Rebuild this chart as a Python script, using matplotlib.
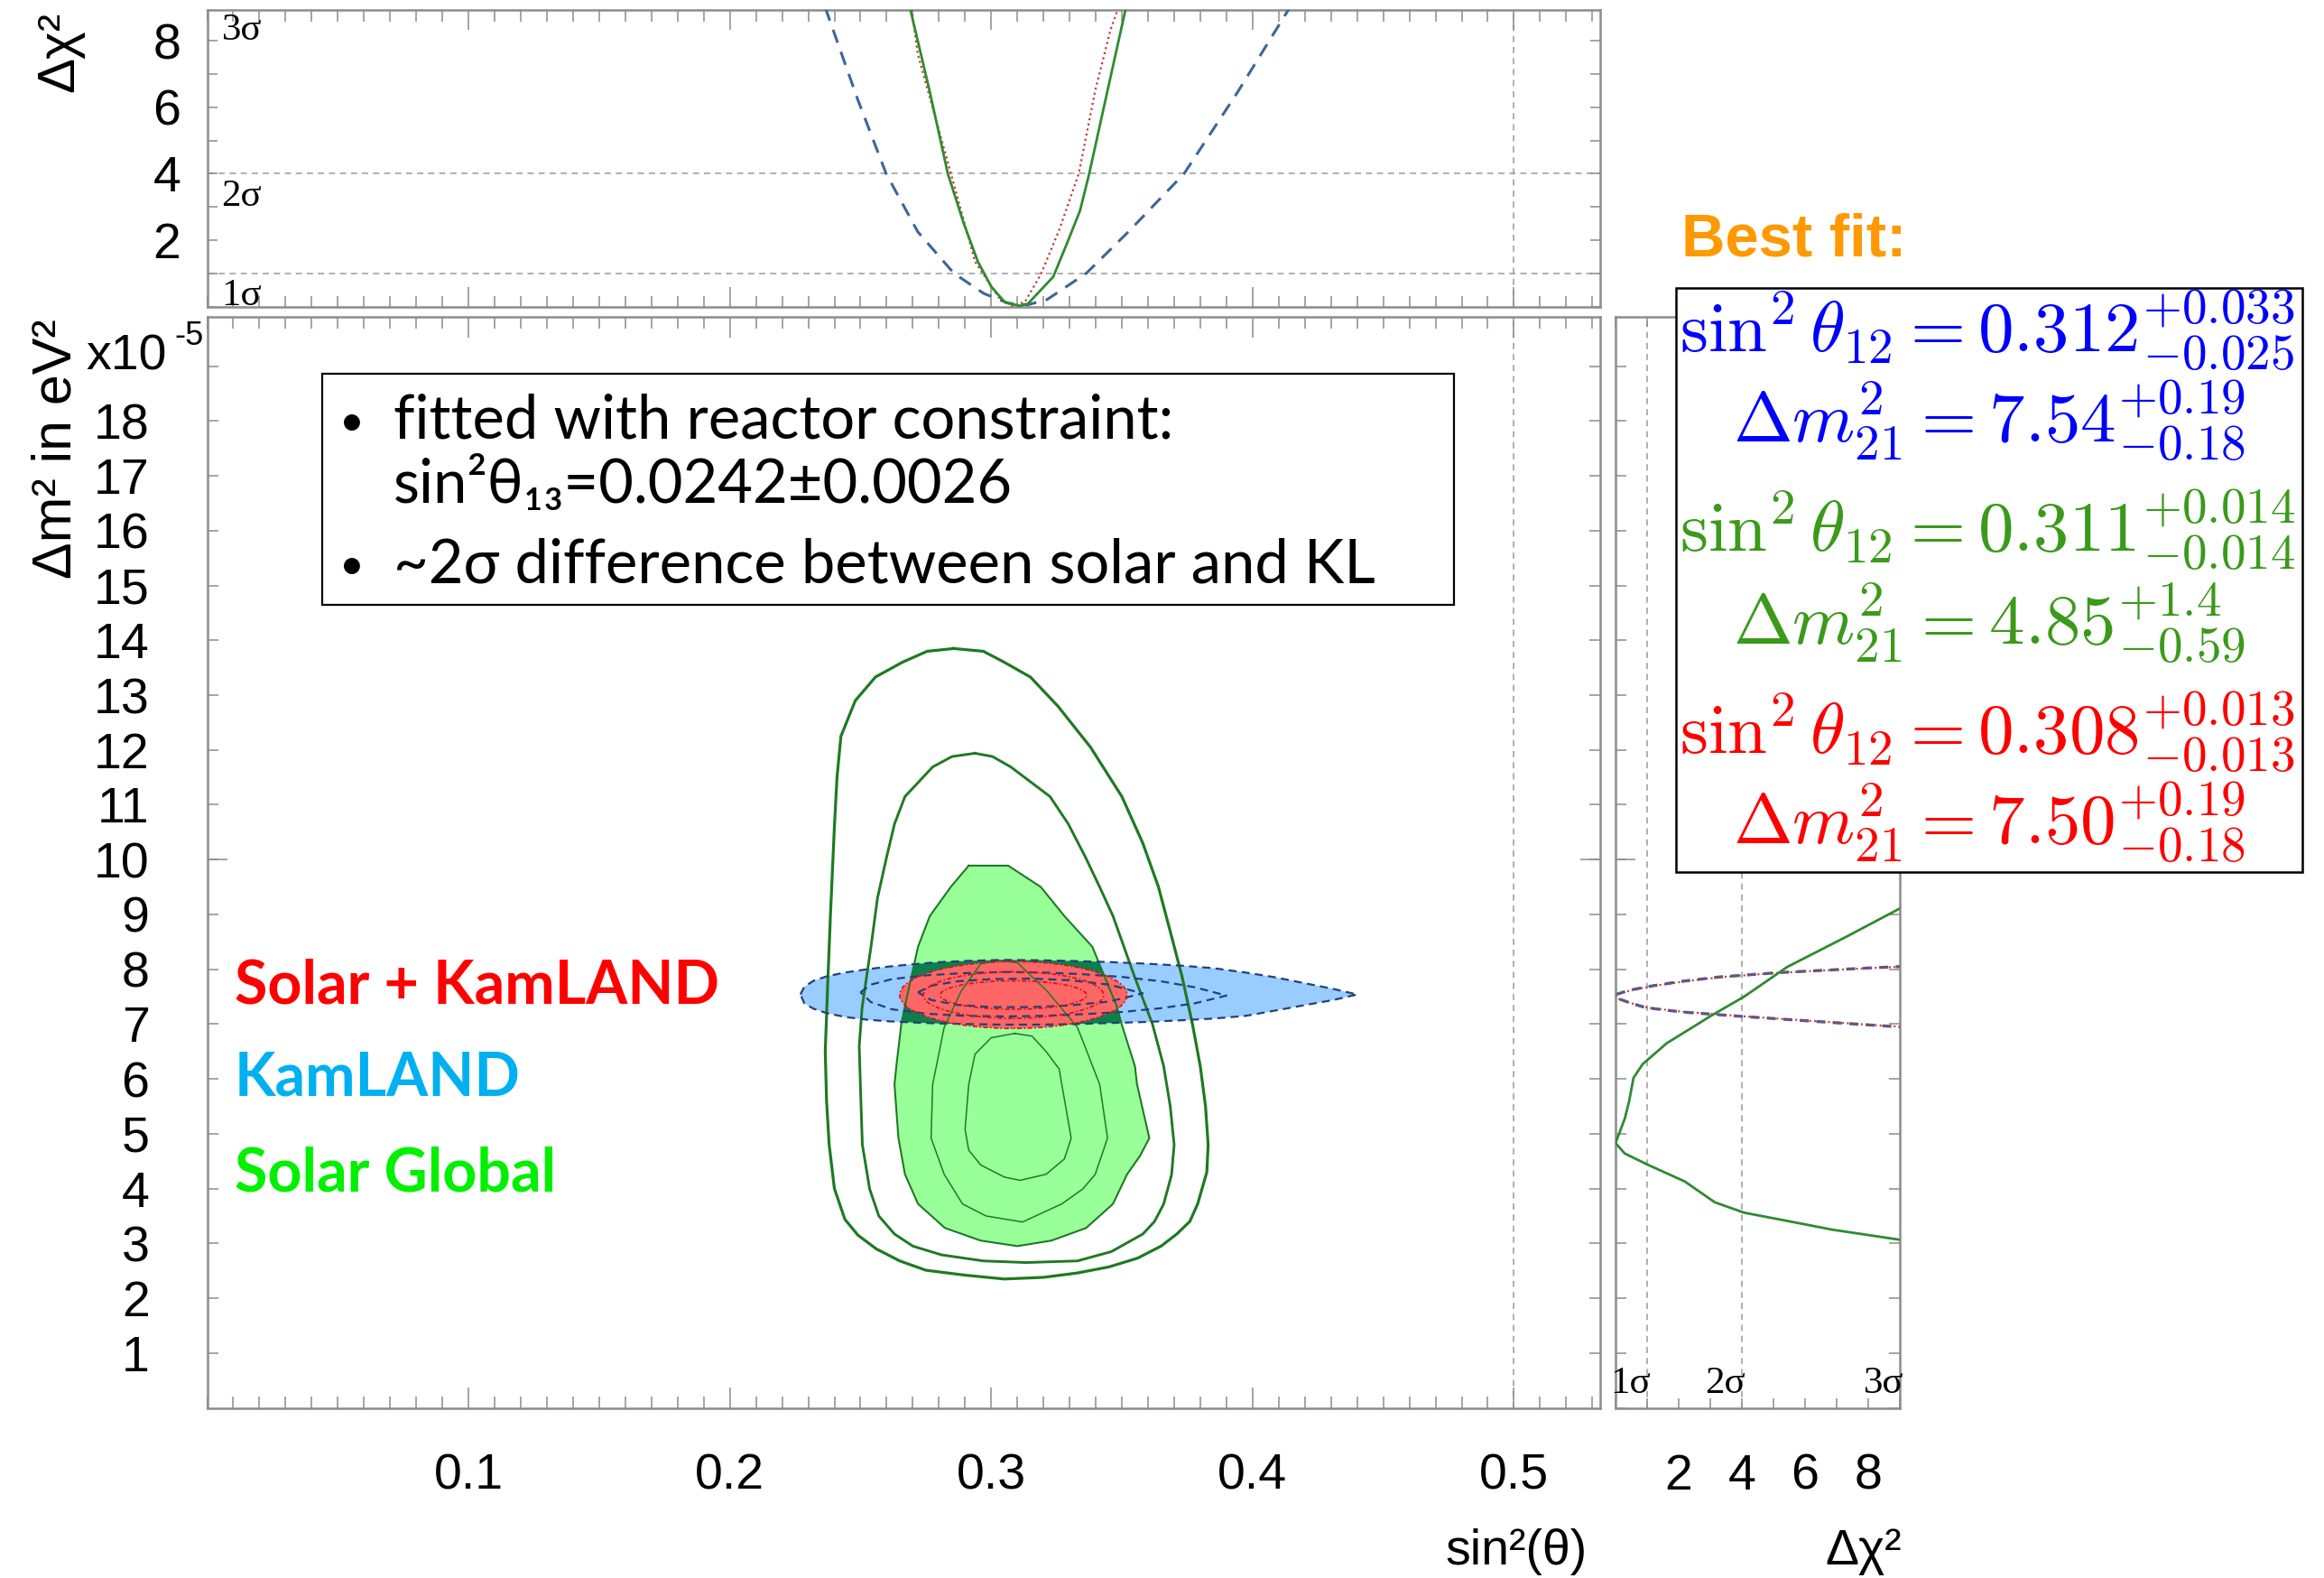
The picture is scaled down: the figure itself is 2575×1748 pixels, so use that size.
import matplotlib
matplotlib.use("Agg")
import matplotlib.pyplot as plt
from matplotlib.patches import Polygon, Ellipse, Rectangle
from matplotlib.ticker import MultipleLocator, FixedLocator, FuncFormatter, NullFormatter
import numpy as np

W, H, DPI = 2575, 1748, 100

# ------------------------------------------------------------------ data
# main panel: allowed regions, x = sin^2(theta12), y = dm^2_21 [1e-5 eV^2]
SOLAR_OUTER_X = [0.2857, 0.297, 0.305, 0.315, 0.3255, 0.338, 0.350, 0.358, 0.364, 0.369, 0.373,
                 0.377, 0.380, 0.382, 0.383, 0.3825, 0.379, 0.376, 0.371, 0.365, 0.356, 0.345,
                 0.333, 0.320, 0.305, 0.290, 0.275, 0.265, 0.256, 0.249, 0.244, 0.240, 0.238,
                 0.237, 0.2365, 0.2375, 0.2385, 0.240, 0.241, 0.2425, 0.248, 0.2557, 0.266, 0.2755]
SOLAR_OUTER_Y = [13.85, 13.8, 13.6, 13.33, 12.8, 12.05, 11.15, 10.3, 9.5, 8.6, 7.87,
                 7.0, 6.23, 5.5, 4.8, 4.3, 3.72, 3.4, 3.17, 2.95, 2.73, 2.57,
                 2.46, 2.38, 2.35, 2.42, 2.51, 2.68, 2.9, 3.15, 3.44, 4.0, 4.8,
                 5.6, 6.5, 7.8, 9.0, 10.6, 11.5, 12.25, 12.9, 13.33, 13.6, 13.8]

SOLAR_MID_X = [0.2938, 0.3005, 0.3075, 0.3225, 0.3295, 0.336, 0.3415, 0.3466, 0.3548, 0.3617,
               0.366, 0.3685, 0.370, 0.369, 0.366, 0.3625, 0.358, 0.346, 0.333, 0.3134,
               0.297, 0.281, 0.270, 0.263, 0.257, 0.2535, 0.2507, 0.250, 0.2495, 0.2506,
               0.254, 0.2565, 0.260, 0.263, 0.267, 0.2776, 0.285]
SOLAR_MID_Y = [11.94, 11.88, 11.69, 11.15, 10.65, 10.05, 9.5, 8.97, 7.87, 7.0,
               6.23, 5.5, 4.8, 4.25, 3.72, 3.4, 3.17, 2.85, 2.68, 2.65,
               2.68, 2.79, 2.95, 3.17, 3.5, 3.99, 4.8, 5.8, 6.6, 7.3,
               8.41, 9.3, 10.05, 10.65, 11.15, 11.69, 11.88]

SOLAR_FILL_X = [0.2914, 0.3065, 0.319, 0.328, 0.3387, 0.348, 0.3499, 0.355, 0.3558, 0.3605,
                0.357, 0.352, 0.3466, 0.3363, 0.323, 0.310, 0.296, 0.2823, 0.272, 0.267,
                0.2645, 0.263, 0.2637, 0.2656, 0.267, 0.272, 0.2765, 0.2845]
SOLAR_FILL_Y = [9.89, 9.89, 9.5, 8.97, 8.41, 7.33, 7.0, 6.23, 5.9, 4.92,
                4.6, 4.26, 3.72, 3.28, 3.05, 2.95, 3.05, 3.28, 3.72, 4.26,
                4.92, 5.9, 6.23, 7.0, 7.33, 8.41, 8.97, 9.5]

SOLAR_IN1_X = [0.296, 0.303, 0.310, 0.3214, 0.333, 0.3415, 0.3445, 0.3398, 0.335, 0.327,
               0.312, 0.298, 0.289, 0.282, 0.277, 0.2776, 0.282, 0.2885]
SOLAR_IN1_Y = [8.10, 8.16, 8.12, 7.6, 6.94, 5.9, 4.92, 4.26, 3.99, 3.72,
               3.39, 3.5, 3.72, 4.26, 4.92, 5.9, 6.94, 7.6]

SOLAR_IN2_X = [0.309, 0.3156, 0.321, 0.326, 0.328, 0.3306, 0.328, 0.321, 0.311, 0.305,
               0.296, 0.2914, 0.290, 0.2914, 0.2938, 0.300]
SOLAR_IN2_Y = [6.83, 6.78, 6.5, 6.18, 5.63, 4.92, 4.54, 4.26, 4.15, 4.21,
               4.43, 4.7, 5.08, 5.9, 6.45, 6.75]

KL_3S_X = [0.227, 0.2285, 0.232, 0.237, 0.244, 0.2525, 0.261, 0.2697, 0.280, 0.292, 0.304,
           0.318, 0.332, 0.346, 0.360, 0.373, 0.385, 0.3974, 0.409, 0.4205, 0.431, 0.440,
           0.431, 0.4205, 0.409, 0.3974, 0.385, 0.373, 0.360, 0.346, 0.332, 0.318, 0.304,
           0.292, 0.280, 0.2697, 0.261, 0.2525, 0.244, 0.237, 0.232, 0.2285]
KL_3S_Y = [7.54, 7.68, 7.79, 7.87, 7.94, 8.00, 8.05, 8.09, 8.13, 8.155, 8.17,
           8.165, 8.15, 8.13, 8.10, 8.065, 8.02, 7.94, 7.85, 7.74, 7.64, 7.54,
           7.44, 7.35, 7.25, 7.15, 7.10, 7.07, 7.04, 7.02, 7.0, 6.99, 6.99,
           7.0, 7.01, 7.03, 7.05, 7.08, 7.13, 7.2, 7.28, 7.38]

KL_2S_X = [0.250, 0.254, 0.262, 0.275, 0.290, 0.305, 0.320, 0.335, 0.350, 0.365, 0.378, 0.390,
           0.378, 0.365, 0.350, 0.335, 0.320, 0.305, 0.290, 0.275, 0.262, 0.254]
KL_2S_Y = [7.58, 7.72, 7.82, 7.89, 7.93, 7.95, 7.94, 7.91, 7.86, 7.78, 7.67, 7.52,
           7.38, 7.29, 7.22, 7.18, 7.15, 7.14, 7.15, 7.19, 7.27, 7.40]

KL_1S_X = [0.272, 0.277, 0.287, 0.300, 0.315, 0.330, 0.345, 0.358,
           0.345, 0.330, 0.315, 0.300, 0.287, 0.277]
KL_1S_Y = [7.58, 7.70, 7.78, 7.82, 7.83, 7.80, 7.72, 7.56,
           7.41, 7.34, 7.31, 7.31, 7.35, 7.44]

SKL_CENTER = (0.3085, 7.53)
SKL_WIDTHS = [0.087, 0.069, 0.056]    # 3 sigma (filled), 2 sigma, 1 sigma
SKL_HEIGHTS = [1.22, 0.85, 0.52]

# top panel: delta chi^2 vs sin^2(theta12)
TOP_SOLAR_S2 = [0.2680, 0.2764, 0.2834, 0.2895, 0.2949, 0.3000, 0.3053, 0.3110, 0.3140,
                0.3237, 0.3290, 0.3340, 0.3375, 0.3445, 0.3524]
TOP_SOLAR_CHI2 = [9.3, 6.5, 4.0, 2.5, 1.35, 0.6, 0.12, 0.02, 0.08,
                  0.89, 1.9, 2.89, 4.0, 6.5, 9.3]
TOP_SKL_S2 = [0.2690, 0.2719, 0.2846, 0.2938, 0.3030, 0.3085, 0.3130, 0.3190, 0.3260,
              0.3335, 0.3398, 0.3456, 0.3500]
TOP_SKL_CHI2 = [9.3, 7.6, 4.0, 1.35, 0.26, 0.0, 0.15, 0.97, 2.3, 4.0, 6.5, 8.32, 9.3]
TOP_KL_S2 = [0.2365, 0.2489, 0.2598, 0.2719, 0.2857, 0.2972, 0.3065, 0.3140, 0.3214,
             0.3364, 0.3525, 0.3738, 0.3940, 0.4150]
TOP_KL_CHI2 = [9.0, 6.24, 4.0, 2.25, 1.0, 0.39, 0.1, 0.05, 0.21, 1.0, 2.25, 4.0, 6.42, 9.1]

# right panel: delta chi^2 vs dm^2
R_SOLAR_DM2 = [9.2, 8.6, 8.04, 7.5, 7.16, 6.65, 6.27, 6.02, 5.59, 5.27, 4.83, 4.64, 4.44,
               4.13, 3.75, 3.56, 3.41, 3.25, 3.04]
R_SOLAR_CHI2 = [9.3, 7.33, 5.43, 4.07, 3.05, 1.62, 0.86, 0.57, 0.43, 0.29, 0.0, 0.29, 1.0,
                2.19, 3.14, 4.07, 5.43, 6.86, 9.3]
R_KL_DM2 = [6.90, 6.97, 7.05, 7.14, 7.22, 7.30, 7.38, 7.46, 7.50, 7.54, 7.62, 7.70, 7.78,
            7.86, 7.94, 8.02, 8.10]
R_KL_CHI2 = [10.3, 8.4, 6.3, 4.0, 2.1, 0.95, 0.5, 0.1, 0.0, 0.02, 0.45, 1.2, 2.1,
             3.3, 5.2, 7.9, 11.0]
R_SKL_DM2 = [6.90, 6.97, 7.05, 7.14, 7.22, 7.30, 7.38, 7.46, 7.50, 7.54, 7.62, 7.70, 7.78,
             7.86, 7.94, 8.02, 8.10]
R_SKL_CHI2 = [10.5, 8.5, 6.4, 4.1, 2.2, 1.0, 0.5, 0.08, 0.0, 0.05, 0.5, 1.25, 2.2,
              3.4, 5.3, 8.0, 11.2]

X_TICKS = [0.1, 0.2, 0.3, 0.4, 0.5]
Y_TICKS = list(range(1, 20))
Y_LABEL_MAX = 18
CHI2_TICKS = [2, 4, 6, 8]
SIGMA_LEVELS = [1, 4, 9]
SIGMA_LABELS = ["1σ", "2σ", "3σ"]

LEGEND_LABELS = ["Solar + KamLAND", "KamLAND", "Solar Global"]
BOX_LINES = ["fitted with reactor constraint:", "sin²θ₁₃=0.0242±0.0026",
             "~2σ difference between solar and KL"]
BF_SIN2 = ["0.312", "0.311", "0.308"]
BF_SIN2_UP = ["0.033", "0.014", "0.013"]
BF_SIN2_DN = ["0.025", "0.014", "0.013"]
BF_DM2 = ["7.54", "4.85", "7.50"]
BF_DM2_UP = ["0.19", "1.4", "0.19"]
BF_DM2_DN = ["0.18", "0.59", "0.18"]

# ------------------------------------------------------------------ style
plt.rcParams["font.family"] = ["Liberation Sans", "DejaVu Sans"]
plt.rcParams["mathtext.fontset"] = "cm"

C_FRAME = "#8c8c8c"
C_GRID = "#9a9a9a"
C_LGREEN = "#99FF99"
C_DGREEN = "#0D7F4C"
C_GLINE = "#1E7A22"
C_LBLUE = "#99CCFF"
C_BLINE = "#22417A"
C_RED = "#FF6666"
C_RLINE = "#D01515"
C_PGREEN = "#2E8B2E"
C_PBLUE = "#3C6699"
C_PRED = "#CC3333"
TICK_FS = 40
CALIBRI = ["Lato", "DejaVu Sans"]

fig = plt.figure(figsize=(W / DPI, H / DPI), dpi=DPI)
fig.patch.set_facecolor("white")


def add_axes_px(l, t, r, b):
    return fig.add_axes([l / W, 1 - b / H, (r - l) / W, (b - t) / H])


def ftext(x, y, s, **kw):
    return fig.text(x / W, 1 - y / H, s, **kw)


def style(ax):
    for sp in ax.spines.values():
        sp.set_color(C_FRAME)
        sp.set_linewidth(1.8)
    ax.tick_params(which="both", direction="in", color=C_FRAME, width=1.1,
                   top=True, right=True, labelsize=TICK_FS)


def closed(v):
    return list(v) + [v[0]]


dash = (0, (4.5, 3.5))

# ------------------------------------------------------------------ top panel
ax_top = add_axes_px(229.5, 11, 1773, 339.5)
style(ax_top)
ax_top.set_xlim(0, 0.533)
ax_top.set_ylim(0, 8.93)
ax_top.xaxis.set_major_locator(FixedLocator(X_TICKS))
ax_top.xaxis.set_minor_locator(MultipleLocator(0.01))
ax_top.xaxis.set_major_formatter(NullFormatter())
ax_top.yaxis.set_major_locator(FixedLocator(CHI2_TICKS))
ax_top.yaxis.set_minor_locator(MultipleLocator(1))
ax_top.yaxis.set_major_formatter(FuncFormatter(lambda v, p: f"{v:.0f}"))
ax_top.tick_params(axis="x", which="major", length=16)
ax_top.tick_params(axis="x", which="minor", length=9)
ax_top.tick_params(axis="y", which="both", length=8, pad=21)
for lev in SIGMA_LEVELS[:2]:
    ax_top.axhline(lev, color=C_GRID, lw=1.1, ls=dash, zorder=1)
ax_top.axvline(0.5, color=C_GRID, lw=1.1, ls=dash, zorder=1)
ax_top.plot(TOP_KL_S2, TOP_KL_CHI2, color=C_PBLUE, lw=2.2, ls=(0, (5, 3.5)), zorder=3)
ax_top.plot(TOP_SKL_S2, TOP_SKL_CHI2, color=C_PRED, lw=1.6, ls=(0, (1, 1.6)), zorder=4)
ax_top.plot(TOP_SOLAR_S2, TOP_SOLAR_CHI2, color=C_PGREEN, lw=2.0, zorder=5)
for lev, lab in zip(SIGMA_LEVELS, SIGMA_LABELS):
    ax_top.text(0.0055, lev - 0.68, lab, family=["Liberation Serif", "DejaVu Serif"],
                fontsize=31, ha="left", va="center")

# ------------------------------------------------------------------ main panel
ax = add_axes_px(229.5, 351, 1773, 1559.5)
style(ax)
ax.set_xlim(0, 0.533)
ax.set_ylim(0, 19.9)
ax.xaxis.set_major_locator(FixedLocator(X_TICKS))
ax.xaxis.set_minor_locator(MultipleLocator(0.01))
ax.xaxis.set_major_formatter(FuncFormatter(lambda v, p: f"{v:.1f}"))
ax.yaxis.set_major_locator(FixedLocator(Y_TICKS))
ax.yaxis.set_major_formatter(FuncFormatter(lambda v, p: "" if v > Y_LABEL_MAX + 0.5 else f"{v:.0f}"))
ax.yaxis.set_minor_locator(FixedLocator([10]))
ax.yaxis.remove_overlapping_locs = False
ax.tick_params(axis="x", which="major", length=16.5, pad=36)
ax.tick_params(axis="x", which="minor", length=9.4)
ax.tick_params(axis="y", which="major", length=8.3, pad=46)
ax.tick_params(axis="y", which="minor", length=16, labelleft=False)
ax.axvline(0.5, color=C_GRID, lw=1.1, ls=dash, zorder=1)

kl_patch = Polygon(np.column_stack([KL_3S_X, KL_3S_Y]), closed=True, fc=C_LBLUE, ec="none", zorder=2)
ax.add_patch(kl_patch)
ax.fill(SOLAR_FILL_X, SOLAR_FILL_Y, fc=C_LGREEN, ec="none", zorder=3)
overlap = Polygon(np.column_stack([SOLAR_FILL_X, SOLAR_FILL_Y]), closed=True, fc=C_DGREEN, ec="none", zorder=4)
ax.add_patch(overlap)
overlap.set_clip_path(kl_patch)
ax.add_patch(Ellipse(SKL_CENTER, SKL_WIDTHS[0], SKL_HEIGHTS[0], fc=C_RED, ec="none", zorder=5))

ax.plot(closed(SOLAR_OUTER_X), closed(SOLAR_OUTER_Y), color=C_GLINE, lw=2.3, zorder=6)
ax.plot(closed(SOLAR_MID_X), closed(SOLAR_MID_Y), color=C_GLINE, lw=2.1, zorder=6)
ax.plot(closed(SOLAR_FILL_X), closed(SOLAR_FILL_Y), color=C_GLINE, lw=1.5, zorder=6)
ax.plot(closed(SOLAR_IN1_X), closed(SOLAR_IN1_Y), color=C_GLINE, lw=1.1, zorder=6)
ax.plot(closed(SOLAR_IN2_X), closed(SOLAR_IN2_Y), color=C_GLINE, lw=1.1, zorder=6)

for xs, ys in [(KL_3S_X, KL_3S_Y), (KL_2S_X, KL_2S_Y), (KL_1S_X, KL_1S_Y)]:
    ax.plot(closed(xs), closed(ys), color=C_BLINE, lw=1.6, ls=(0, (4, 2.6)), zorder=7)
for w, h in zip(SKL_WIDTHS, SKL_HEIGHTS):
    ax.add_patch(Ellipse(SKL_CENTER, w, h, fill=False, ec=C_RLINE, lw=1.2,
                         ls=(0, (1, 1.5, 3, 1.5)), zorder=8))

# ------------------------------------------------------------------ right panel
axr = add_axes_px(1790, 351, 2105, 1559.5)
style(axr)
axr.set_xlim(0, 9.0)
axr.set_ylim(0, 19.9)
axr.xaxis.set_major_locator(FixedLocator(CHI2_TICKS))
axr.xaxis.set_minor_locator(MultipleLocator(1))
axr.xaxis.set_major_formatter(FuncFormatter(lambda v, p: f"{v:.0f}"))
axr.yaxis.set_major_locator(MultipleLocator(1))
axr.yaxis.set_minor_locator(FixedLocator([10]))
axr.yaxis.remove_overlapping_locs = False
axr.tick_params(axis="x", which="both", length=8, pad=36)
axr.tick_params(axis="y", which="major", length=8.3, labelleft=False)
axr.tick_params(axis="y", which="minor", length=16, labelleft=False)
for lev in SIGMA_LEVELS[:2]:
    axr.axvline(lev, color=C_GRID, lw=1.1, ls=dash, zorder=1)
axr.plot(R_KL_CHI2, R_KL_DM2, color=C_PBLUE, lw=2.4, ls=(0, (3, 2.5)), zorder=3)
axr.plot(R_SKL_CHI2, R_SKL_DM2, color=C_PRED, lw=1.5, ls=(0, (1, 1.5)), zorder=4)
axr.plot(R_SOLAR_CHI2, R_SOLAR_DM2, color=C_PGREEN, lw=2.0, zorder=5)
for lev, lab in zip(SIGMA_LEVELS, SIGMA_LABELS):
    axr.text(lev + 0.12, 0.12, lab, family=["Liberation Serif", "DejaVu Serif"],
             fontsize=31, ha="right", va="bottom", clip_on=False)

# ------------------------------------------------------------------ texts
renderer = fig.canvas.get_renderer()


def fit_w(t, target):
    bb = t.get_window_extent(renderer)
    t.set_fontsize(t.get_fontsize() * target / bb.width)
    return t.get_fontsize()


def fit_h(t, target):
    bb = t.get_window_extent(renderer)
    t.set_fontsize(t.get_fontsize() * target / bb.height)
    return t.get_fontsize()


ftext(66, 57, "Δχ²", rotation=90, ha="center", va="center", fontsize=42)
t = ftext(63, 497, "Δm² in eV²", rotation=90, ha="center", va="center", fontsize=40)
fit_h(t, 287)
ftext(95, 410, "x10", ha="left", va="baseline", fontsize=40)
ftext(193, 382, "-5", ha="left", va="baseline", fontsize=26)
ftext(1759, 1733, "sin²(θ)", ha="right", va="baseline", fontsize=40)
ftext(2107, 1733, "Δχ²", ha="right", va="baseline", fontsize=40)

# note box
fig.add_artist(Rectangle((357 / W, 1 - 670 / H), (1611 - 357) / W, (670 - 414) / H,
                         transform=fig.transFigure, fc="white", ec="black", lw=1.6, zorder=5))
box_baselines = [486, 557, 645]
t0 = ftext(436, box_baselines[0], BOX_LINES[0], family=CALIBRI, fontsize=45, va="baseline", zorder=6)
fs = fit_w(t0, 866)
ftext(436, box_baselines[1], BOX_LINES[1], family=CALIBRI, fontsize=fs, va="baseline", zorder=6)
ftext(436, box_baselines[2], BOX_LINES[2], family=CALIBRI, fontsize=fs, va="baseline", zorder=6)
for yb in (box_baselines[0], box_baselines[2]):
    ftext(376, yb - 4, "•", family=CALIBRI, fontsize=fs * 0.72, va="baseline", zorder=6)

# coloured legend labels
leg_colors = ["#FF0000", "#00B0F0", "#00F000"]
leg_baselines = [1112, 1214, 1319]
t0 = ftext(260, leg_baselines[0], LEGEND_LABELS[0], color=leg_colors[0], family=CALIBRI,
           weight="bold", fontsize=48, va="baseline")
fs = fit_w(t0, 537)
for lab, c, yb in zip(LEGEND_LABELS[1:], leg_colors[1:], leg_baselines[1:]):
    ftext(260, yb, lab, color=c, family=CALIBRI, weight="bold", fontsize=fs, va="baseline")

# best fit box
t = ftext(1863, 284, "Best fit:", color="#FF9900", weight="bold", fontsize=48, va="baseline")
fit_w(t, 249)
fig.add_artist(Rectangle((1857 / W, 1 - 966 / H), (2551 - 1857) / W, (966 - 319) / H,
                         transform=fig.transFigure, fc="white", ec="black", lw=1.8, zorder=5))
bf_colors = ["#0000FF", "#3A9A1A", "#FF0000"]
sin_base = [390, 611, 835]
dm_base = [490, 713, 935]
fs_bf = None
for i in range(3):
    s1 = (r"$\sin^2\theta_{12} = " + BF_SIN2[i] + "^{+" + BF_SIN2_UP[i] + "}_{-"
          + BF_SIN2_DN[i] + "}$")
    s2 = (r"$\Delta m^2_{21} = " + BF_DM2[i] + "^{+" + BF_DM2_UP[i] + "}_{-"
          + BF_DM2_DN[i] + "}$")
    ta = ftext(1861, sin_base[i], s1, color=bf_colors[i], fontsize=48 if fs_bf is None else fs_bf,
               va="baseline", zorder=6)
    if fs_bf is None:
        fs_bf = fit_w(ta, 682)
    ftext(1919.5, dm_base[i], s2, color=bf_colors[i], fontsize=fs_bf, va="baseline", zorder=6)

fig.savefig("out.png", dpi=DPI, facecolor="white")
